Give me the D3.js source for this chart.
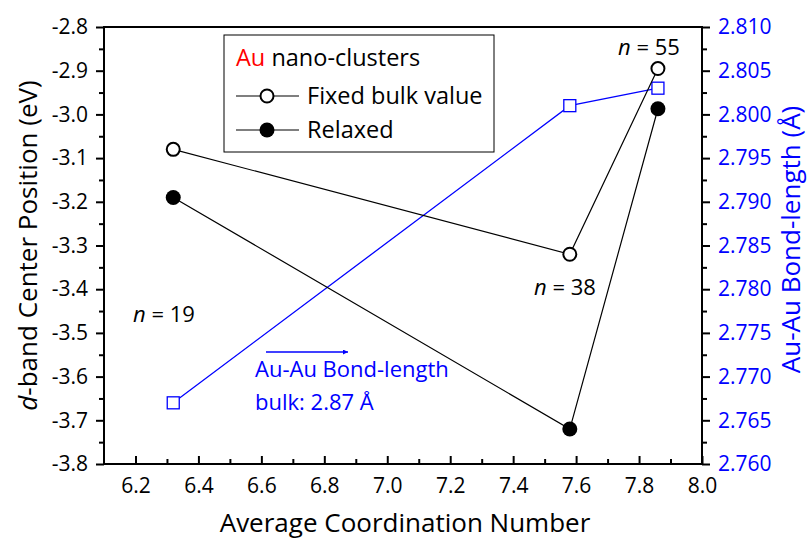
<!DOCTYPE html>
<html>
<head>
<meta charset="utf-8">
<script src="https://cdn.jsdelivr.net/npm/d3@7"></script>
<style>
  body { margin: 0; background: #fff; }
  text { font-family: 'Open Sans', sans-serif; }
</style>
</head>
<body>
<div id="chart"></div>
<script>
// data
let coordNum   = [6.32, 7.58, 7.86];
let fixedBulk  = [-3.08, -3.32, -2.895];
let relaxed    = [-3.19, -3.72, -2.987];
let bondLength = [2.767, 2.801, 2.803];
let clusterLbl = ['n = 19', 'n = 38', 'n = 55'];
let xTicks  = [6.2, 6.4, 6.6, 6.8, 7.0, 7.2, 7.4, 7.6, 7.8, 8.0];
let yTicks  = [-2.8, -2.9, -3.0, -3.1, -3.2, -3.3, -3.4, -3.5, -3.6, -3.7, -3.8];
let y2Ticks = [2.760, 2.765, 2.770, 2.775, 2.780, 2.785, 2.790, 2.795, 2.800, 2.805, 2.810];

let W = 807, H = 540;
let margin = {top: 27, right: 105, bottom: 76, left: 104};
let w = W - margin.left - margin.right;
let h = H - margin.top - margin.bottom;

let svg = d3.select('#chart').append('svg').attr('width', W).attr('height', H);
let g = svg.append('g').attr('transform', `translate(${margin.left},${margin.top})`);

let x  = d3.scaleLinear().domain([6.1, 8.0]).range([0, w]);
let y  = d3.scaleLinear().domain([-3.8, -2.8]).range([h, 0]);
let y2 = d3.scaleLinear().domain([2.760, 2.810]).range([h, 0]);

let fs = '21px';   //tick labels
let fa = '22px';   //annotations
let fl = '23.5px'; //legend
let ft = '26px';   //axis titles

//frame
g.append('rect').attr('width', w).attr('height', h).attr('fill', 'none').attr('stroke', 'black').attr('stroke-width', 2);

//x axis
let xAxis = g.append('g').attr('transform', `translate(0,${h})`)
  .call(d3.axisBottom(x).tickValues(xTicks).tickFormat(d3.format('.1f')).tickSize(-8).tickPadding(14));
let xMinor = g.append('g').attr('transform', `translate(0,${h})`)
  .call(d3.axisBottom(x).tickValues(d3.range(6.3, 8.0, 0.2)).tickFormat('').tickSize(-5));

//left axis
let yAxis = g.append('g')
  .call(d3.axisLeft(y).tickValues(yTicks).tickFormat(d3.format('.1f')).tickSize(8).tickPadding(8));
let yMinor = g.append('g')
  .call(d3.axisLeft(y).tickValues(d3.range(-2.85, -3.8, -0.1)).tickFormat('').tickSize(5));

//right axis
let y2Axis = g.append('g').attr('transform', `translate(${w},0)`)
  .call(d3.axisRight(y2).tickValues(y2Ticks).tickFormat(d3.format('.3f')).tickSize(8).tickPadding(8));
let y2Minor = g.append('g').attr('transform', `translate(${w},0)`)
  .call(d3.axisRight(y2).tickValues(d3.range(2.7625, 2.81, 0.005)).tickFormat('').tickSize(5));

[xAxis, xMinor, yAxis, yMinor, y2Axis, y2Minor].forEach(a => {
  a.select('.domain').remove();
  a.selectAll('line').attr('stroke', 'black').attr('stroke-width', 2);
  a.selectAll('text').style('font-size', fs).style('font-family', "'Open Sans', sans-serif").attr('fill', 'black');
});
// minus sign as hyphen
yAxis.selectAll('text').text(d => d3.format('.1f')(d).replace('−', '-'));
y2Axis.selectAll('text').attr('fill', 'blue');

//axis titles
svg.append('text').attr('x', 405).attr('y', 532).attr('text-anchor', 'middle')
  .style('font-size', ft).text('Average Coordination Number');

let lt = svg.append('text').attr('transform', `translate(37,${margin.top + h / 2}) rotate(-90)`)
  .attr('text-anchor', 'middle').style('font-size', ft);
lt.append('tspan').style('font-style', 'italic').text('d');
lt.append('tspan').text('-band Center Position (eV)');

svg.append('text').attr('transform', `translate(800,${margin.top + h / 2 - 6}) rotate(-90)`)
  .attr('text-anchor', 'middle').style('font-size', ft).attr('fill', 'blue').text('Au-Au Bond-length (Å)');

//bond-length series (blue squares)
let line2 = d3.line().x((d, i) => x(coordNum[i])).y(d => y2(d));
g.append('path').attr('d', line2(bondLength)).attr('fill', 'none').attr('stroke', 'blue').attr('stroke-width', 1.3);
g.selectAll('.sq').data(bondLength).enter().append('rect').attr('class', 'sq')
  .attr('x', (d, i) => x(coordNum[i]) - 6).attr('y', d => y2(d) - 6)
  .attr('width', 12).attr('height', 12).attr('fill', 'white').attr('stroke', 'blue').attr('stroke-width', 1.3);

//d-band series
let line = d3.line().x((d, i) => x(coordNum[i])).y(d => y(d));
g.append('path').attr('d', line(fixedBulk)).attr('fill', 'none').attr('stroke', 'black').attr('stroke-width', 1.2);
g.append('path').attr('d', line(relaxed)).attr('fill', 'none').attr('stroke', 'black').attr('stroke-width', 1.2);

g.selectAll('.open').data(fixedBulk).enter().append('circle').attr('class', 'open')
  .attr('cx', (d, i) => x(coordNum[i])).attr('cy', d => y(d)).attr('r', 6.5)
  .attr('fill', 'white').attr('stroke', 'black').attr('stroke-width', 2);
g.selectAll('.full').data(relaxed).enter().append('circle').attr('class', 'full')
  .attr('cx', (d, i) => x(coordNum[i])).attr('cy', d => y(d)).attr('r', 7.5)
  .attr('fill', 'black');

//n labels
let nPos = [[133, 322], [534, 295], [618, 55]];
clusterLbl.forEach((s, i) => {
  let t = svg.append('text').attr('x', nPos[i][0]).attr('y', nPos[i][1]).style('font-size', fa);
  t.append('tspan').style('font-style', 'italic').text('n');
  t.append('tspan').text(s.slice(1));
});

//bond-length annotation
svg.append('defs').append('marker').attr('id', 'arr').attr('viewBox', '0 0 10 10')
  .attr('refX', 10).attr('refY', 5).attr('markerWidth', 7).attr('markerHeight', 5).attr('orient', 'auto')
  .attr('markerUnits', 'userSpaceOnUse')
  .append('path').attr('d', 'M0,0 L10,5 L0,10 z').attr('fill', 'blue');
svg.append('line').attr('x1', 266).attr('y1', 352).attr('x2', 348).attr('y2', 352)
  .attr('stroke', 'blue').attr('stroke-width', 1.3).attr('marker-end', 'url(#arr)');
svg.append('text').attr('x', 255).attr('y', 377).style('font-size', fa).attr('fill', 'blue').text('Au-Au Bond-length');
svg.append('text').attr('x', 255).attr('y', 410).style('font-size', fa).attr('fill', 'blue').text('bulk: 2.87 Å');

//legend
let lg = svg.append('g');
lg.append('rect').attr('x', 224).attr('y', 35).attr('width', 270).attr('height', 117)
  .attr('fill', 'white').attr('stroke', 'black').attr('stroke-width', 1);
let ttl = lg.append('text').attr('x', 236).attr('y', 66).style('font-size', fl);
ttl.append('tspan').attr('fill', 'red').text('Au');
ttl.append('tspan').text(' nano-clusters');
[['Fixed bulk value', 96, false], ['Relaxed', 130, true]].forEach(d => {
  lg.append('line').attr('x1', 236).attr('x2', 299).attr('y1', d[1]).attr('y2', d[1]).attr('stroke', 'black').attr('stroke-width', 1.2);
  if (d[2]) lg.append('circle').attr('cx', 267).attr('cy', d[1]).attr('r', 7.5).attr('fill', 'black');
  else lg.append('circle').attr('cx', 267).attr('cy', d[1]).attr('r', 6.5).attr('fill', 'white').attr('stroke', 'black').attr('stroke-width', 2);
  lg.append('text').attr('x', 307).attr('y', d[1] + 8).style('font-size', fl).text(d[0]);
});
</script>
</body>
</html>
